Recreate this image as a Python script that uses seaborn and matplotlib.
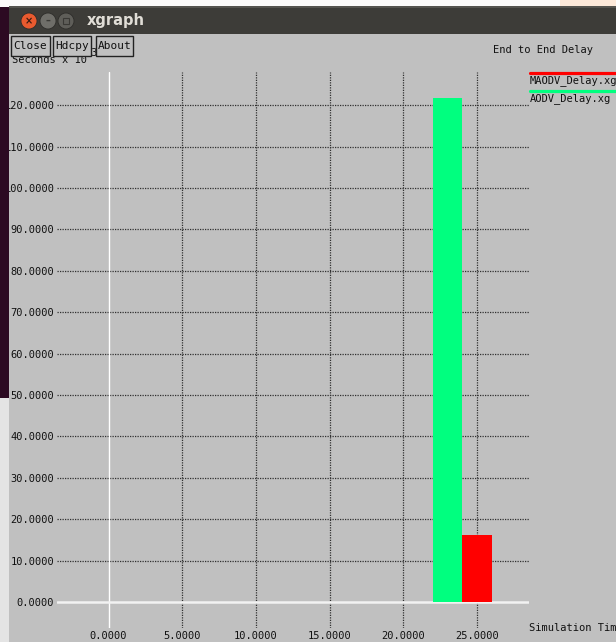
import matplotlib
matplotlib.use("Agg")
import matplotlib.pyplot as plt
import seaborn as sns
import pandas as pd
from matplotlib.patches import Rectangle, Ellipse
from matplotlib.lines import Line2D

# Data: end-to-end delay (seconds x 10^-3) per protocol trace
series = ["MAODV_Delay.xg", "AODV_Delay.xg"]
sim_time = [25, 23]
delay = [16.2, 121.6]
colors = ["#ff0000", "#00ff7f"]
x_ticks = [0, 5, 10, 15, 20, 25]
y_ticks = [0, 10, 20, 30, 40, 50, 60, 70, 80, 90, 100, 110, 120]

W, H = 616, 642
BG = "#c0c0c0"
sns.set_theme(style="white")
plt.rcParams["font.family"] = ["DejaVu Sans Mono", "DejaVu Sans"]
FS = 7.5

fig = plt.figure(figsize=(W / 100, H / 100), dpi=100)
fig.patch.set_facecolor(BG)


def fx(x):
    return x / W


def fy(y):
    return 1 - y / H


def rect(x0, y0, x1, y1, **kw):
    r = Rectangle((fx(x0), fy(y1)), fx(x1) - fx(x0), fy(y0) - fy(y1),
                  transform=fig.transFigure, **kw)
    fig.add_artist(r)
    return r


# ---- plot area ----
ax = fig.add_axes([fx(57), fy(628), fx(529) - fx(57), fy(72) - fy(628)])
ax.set_facecolor(BG)

df = pd.DataFrame({"time": sim_time, "delay": delay, "series": series})
sns.barplot(data=df, x="time", y="delay", hue="series",
            palette=dict(zip(series, colors)), native_scale=True,
            dodge=False, width=1.0, saturation=1, linewidth=0,
            legend=False, ax=ax, zorder=3)

ax.set_xlim(-3.5, 28.54)
ax.set_ylim(-6.3, 128.0)

grid_kw = dict(color="#303030", lw=0.9, ls=(0, (1, 1)), zorder=1)
for xv in x_ticks:
    if xv == 0:
        ax.axvline(xv, color="#ffffff", lw=1.0, zorder=1.5)
    else:
        ax.axvline(xv, **grid_kw)
for yv in y_ticks:
    if yv == 0:
        ax.axhline(yv, color="#f2f2f2", lw=1.8, zorder=2)
    else:
        ax.axhline(yv, **grid_kw)

ax.set_xticks(x_ticks, labels=[f"{v:.4f}" for v in x_ticks])
ax.set_yticks(y_ticks, labels=[f"{v:.4f}" for v in y_ticks])
ax.tick_params(length=0, labelsize=FS, colors="#111111")
ax.tick_params(axis="x", pad=2.5)
ax.tick_params(axis="y", pad=2.0)
ax.set_xlabel("")
ax.set_ylabel("")
for s in ax.spines.values():
    s.set_visible(False)

# ---- title, axis units, legend ----
fig.text(fx(493), fy(50), "End to End Delay", fontsize=FS, ha="left",
         va="center", color="#111111")
fig.text(fx(529), fy(628), "Simulation Time", fontsize=FS, ha="left",
         va="center", color="#111111")
fig.text(fx(12), fy(60), "Seconds x 10", fontsize=FS, ha="left",
         va="center", color="#111111", zorder=1)
fig.text(fx(85), fy(53), "-3", fontsize=FS, ha="left", va="center",
         color="#111111", zorder=1)

leg_y = [72.5, 90.5]
for name, col, ly in zip(series, colors, leg_y):
    fig.add_artist(Line2D([fx(530), fx(616)], [fy(ly), fy(ly)],
                          transform=fig.transFigure, color=col, lw=2.3))
    fig.text(fx(530), fy(ly + 8.5), name, fontsize=FS, ha="left",
             va="center", color="#111111")

# ---- buttons ----
for label, x0, x1 in [("Close", 11, 50), ("Hdcpy", 53, 91), ("About", 96, 133)]:
    rect(x0, 36, x1, 56, facecolor=BG, edgecolor="#222222", lw=1.0, zorder=3)
    fig.text(fx((x0 + x1) / 2), fy(46), label, fontsize=8, ha="center",
             va="center", color="#111111", zorder=4)

# ---- window frame ----
rect(0, 0, 616, 6.5, facecolor="#fcfbfa", edgecolor="none", zorder=5)
rect(560, 0, 616, 6.5, facecolor="#fde9d9", edgecolor="none", zorder=5)
rect(0, 6.5, 8.5, 398, facecolor="#2c0a22", edgecolor="none", zorder=5)
rect(0, 398, 8.5, 642, facecolor="#e4e4e4", edgecolor="none", zorder=5)
rect(8.5, 6.5, 616, 34, facecolor="#3d3c38", edgecolor="none", zorder=5)
rect(8.5, 6.5, 616, 8, facecolor="#55544f", edgecolor="none", zorder=5.5)

for cx, col in [(29, "#e95a2f"), (48, "#6f6e69"), (66, "#5f5e59")]:
    fig.add_artist(Ellipse((fx(cx), fy(21)), 16 / W, 16 / H,
                           transform=fig.transFigure, facecolor=col,
                           edgecolor="#2e2d2a", lw=0.6, zorder=6))
fig.text(fx(29), fy(21), "×", fontsize=7, ha="center", va="center",
         color="#3a1a10", zorder=7, family="DejaVu Sans", weight="bold")
fig.text(fx(48), fy(21), "–", fontsize=7, ha="center", va="center",
         color="#3a3935", zorder=7, family="DejaVu Sans", weight="bold")
fig.add_artist(Rectangle((fx(63), fy(24)), 6 / W, 6 / H,
                         transform=fig.transFigure, facecolor="none",
                         edgecolor="#3a3935", lw=0.8, zorder=7))
fig.text(fx(87), fy(20.5), "xgraph", fontsize=10.5, ha="left", va="center",
         color="#e0ddd6", weight="bold", family="DejaVu Sans", zorder=7)

fig.savefig("out.png", dpi=100, facecolor=fig.get_facecolor())
